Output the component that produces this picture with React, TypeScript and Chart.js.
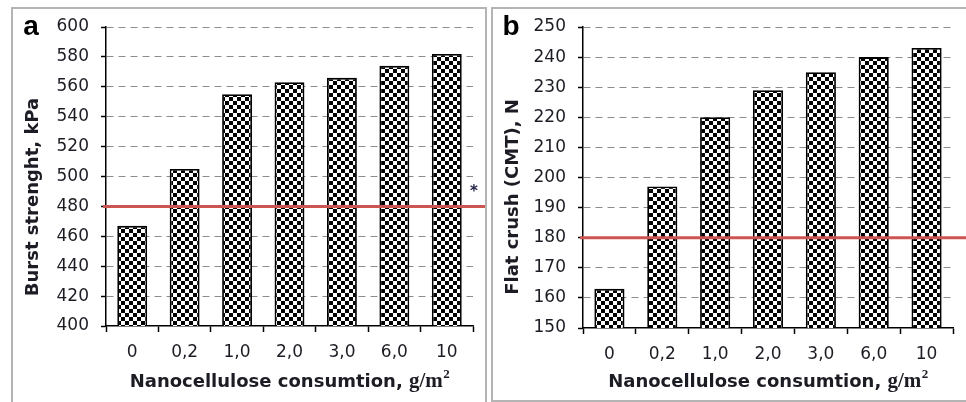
import React, { useEffect, useRef } from 'react';
import { Chart, registerables } from 'chart.js';

Chart.register(...registerables);

// ---------- data ----------
const categories = ['0', '0,2', '1,0', '2,0', '3,0', '6,0', '10'];
const burstValues = [467, 505, 555, 563, 566, 574, 582];
const crushValues = [163, 197, 220, 229, 235, 240, 243];
const burstTicks = [400, 420, 440, 460, 480, 500, 520, 540, 560, 580, 600];
const crushTicks = [150, 160, 170, 180, 190, 200, 210, 220, 230, 240, 250];
const burstThreshold = 480;
const crushThreshold = 180;
const burstTitle = 'Burst strenght, kPa';
const crushTitle = 'Flat crush (CMT), N';
const xTitleMain = 'Nanocellulose consumtion, ';
const xTitleUnit = 'g/m';
const xTitleSup = '2';

const TEXT = '#1c1c24';
const TICK_FONT = { family: '"DejaVu Sans"', size: 17 };

function makePattern(): CanvasPattern | string {
  const c = document.createElement('canvas');
  c.width = 8;
  c.height = 8;
  const g = c.getContext('2d');
  if (!g) return '#888';
  g.fillStyle = '#ffffff';
  g.fillRect(0, 0, 8, 8);
  g.fillStyle = '#000000';
  g.fillRect(0, 0, 4, 4);
  g.fillRect(4, 4, 4, 4);
  const p = g.createPattern(c, 'repeat');
  return p || '#888';
}

type PanelOpts = {
  values: number[];
  ticks: number[];
  threshold: number;
  yTitle: string;
  letter: string;
  asterisk: boolean;
  yWidth: number;
  padTop: number;
  padRight: number;
  xHeight: number;
};

function overlayPlugin(o: PanelOpts) {
  return {
    id: 'overlay' + o.letter,
    afterDatasetsDraw(chart: any) {
      const { ctx, chartArea, scales, width } = chart;
      const y = scales.y.getPixelForValue(o.threshold);
      ctx.save();
      ctx.strokeStyle = '#cc5552';
      ctx.lineWidth = 3;
      ctx.beginPath();
      ctx.moveTo(chartArea.left - 3, y);
      ctx.lineTo(width, y);
      ctx.stroke();
      ctx.restore();
    },
    afterDraw(chart: any) {
      const { ctx, chartArea } = chart;
      ctx.save();
      // panel letter
      ctx.fillStyle = '#000';
      ctx.font = 'bold 28px "Liberation Sans"';
      ctx.textAlign = 'center';
      ctx.textBaseline = 'alphabetic';
      ctx.fillText(o.letter, 18, 26);

      // y title
      ctx.save();
      ctx.translate(20, 188);
      ctx.rotate(-Math.PI / 2);
      ctx.font = 'bold 18px "DejaVu Sans"';
      ctx.fillStyle = TEXT;
      ctx.textAlign = 'center';
      ctx.textBaseline = 'middle';
      ctx.fillText(o.yTitle, 0, 0);
      ctx.restore();

      // x title (mixed fonts)
      const f1 = 'bold 18px "DejaVu Sans"';
      const f2 = 'bold 21px "Liberation Serif"';
      const f3 = 'bold 13px "Liberation Serif"';
      ctx.font = f1;
      const w1 = ctx.measureText(xTitleMain).width;
      ctx.font = f2;
      const w2 = ctx.measureText(xTitleUnit).width;
      ctx.font = f3;
      const w3 = ctx.measureText(xTitleSup).width;
      const total = w1 + w2 + w3;
      const cx = (chartArea.left + chartArea.right) / 2;
      let x = cx - total / 2;
      const base = 378;
      ctx.textAlign = 'left';
      ctx.textBaseline = 'alphabetic';
      ctx.fillStyle = TEXT;
      ctx.font = f1;
      ctx.fillText(xTitleMain, x, base);
      x += w1;
      ctx.font = f2;
      ctx.fillText(xTitleUnit, x, base);
      x += w2;
      ctx.font = f3;
      ctx.fillText(xTitleSup, x + 0.5, base - 9);

      if (o.asterisk) {
        ctx.font = 'bold 15px "DejaVu Sans"';
        ctx.fillStyle = '#22224a';
        ctx.textAlign = 'center';
        ctx.fillText('*', chartArea.right + 1, 187);
      }
      ctx.restore();
    },
  };
}

function makeConfig(o: PanelOpts, pattern: CanvasPattern | string): any {
  const min = o.ticks[0];
  const max = o.ticks[o.ticks.length - 1];
  const step = o.ticks[1] - o.ticks[0];
  return {
    type: 'bar',
    data: {
      labels: categories,
      datasets: [
        {
          data: o.values,
          backgroundColor: pattern,
          borderColor: '#000',
          borderWidth: 1.8,
          barPercentage: 0.57,
          categoryPercentage: 1,
        },
      ],
    },
    options: {
      animation: false,
      responsive: false,
      maintainAspectRatio: false,
      layout: { padding: { top: o.padTop, right: o.padRight, left: 0, bottom: 0 } },
      plugins: { legend: { display: false }, tooltip: { enabled: false }, title: { display: false } },
      scales: {
        x: {
          grid: {
            display: true,
            drawOnChartArea: false,
            drawTicks: true,
            tickLength: 6,
            tickColor: '#000',
            tickWidth: 1.5,
            offset: true,
          },
          border: { display: true, color: '#000', width: 1.5 },
          ticks: { color: TEXT, font: TICK_FONT, padding: 10, maxRotation: 0, autoSkip: false },
          afterFit: (s: any) => {
            s.height = o.xHeight;
            s.paddingLeft = 0;
            s.paddingRight = 0;
          },
        },
        y: {
          min,
          max,
          ticks: { stepSize: step, color: TEXT, font: TICK_FONT, padding: 12 },
          grid: {
            color: (c: any) => (c.tick && c.tick.value === min ? 'rgba(0,0,0,0)' : '#8c8c8c'),
            lineWidth: 1,
            drawTicks: true,
            tickLength: 5,
            tickColor: '#000',
            tickWidth: 1.5,
            tickBorderDash: [],
          },
          border: { display: true, color: '#000', width: 1.5, dash: [7, 5] },
          afterFit: (s: any) => {
            s.width = o.yWidth;
            s.paddingTop = 0;
            s.paddingBottom = 0;
          },
        },
      },
    },
    plugins: [overlayPlugin(o)],
  };
}

function Panel(props: { o: PanelOpts; left: number; top: number; width: number; height: number }) {
  const ref = useRef<HTMLCanvasElement | null>(null);
  useEffect(() => {
    if (!ref.current) return;
    const chart = new Chart(ref.current, makeConfig(props.o, makePattern()));
    return () => chart.destroy();
  }, []);
  return (
    <canvas
      ref={ref}
      width={props.width}
      height={props.height}
      style={{ position: 'absolute', left: props.left, top: props.top, width: props.width, height: props.height }}
    />
  );
}

const panelA: PanelOpts = {
  values: burstValues,
  ticks: burstTicks,
  threshold: burstThreshold,
  yTitle: burstTitle,
  letter: 'a',
  asterisk: true,
  yWidth: 93,
  padTop: 18,
  padRight: 12,
  xHeight: 75,
};

const panelB: PanelOpts = {
  values: crushValues,
  ticks: crushTicks,
  threshold: crushThreshold,
  yTitle: crushTitle,
  letter: 'b',
  asterisk: false,
  yWidth: 90,
  padTop: 18,
  padRight: 13,
  xHeight: 72,
};

export default function App() {
  return (
    <div style={{ position: 'absolute', left: 0, top: 0, width: 966, height: 402, overflow: 'hidden', background: '#fff' }}>
      <div
        style={{
          position: 'absolute',
          left: 11,
          top: 7,
          width: 476,
          height: 410,
          boxSizing: 'border-box',
          border: '2px solid #b4b4b4',
        }}
      />
      <div
        style={{
          position: 'absolute',
          left: 491,
          top: 7,
          width: 490,
          height: 395,
          boxSizing: 'border-box',
          border: '2px solid #b4b4b4',
        }}
      />
      <Panel o={panelA} left={13} top={9} width={472} height={392} />
      <Panel o={panelB} left={493} top={9} width={473} height={391} />
    </div>
  );
}
